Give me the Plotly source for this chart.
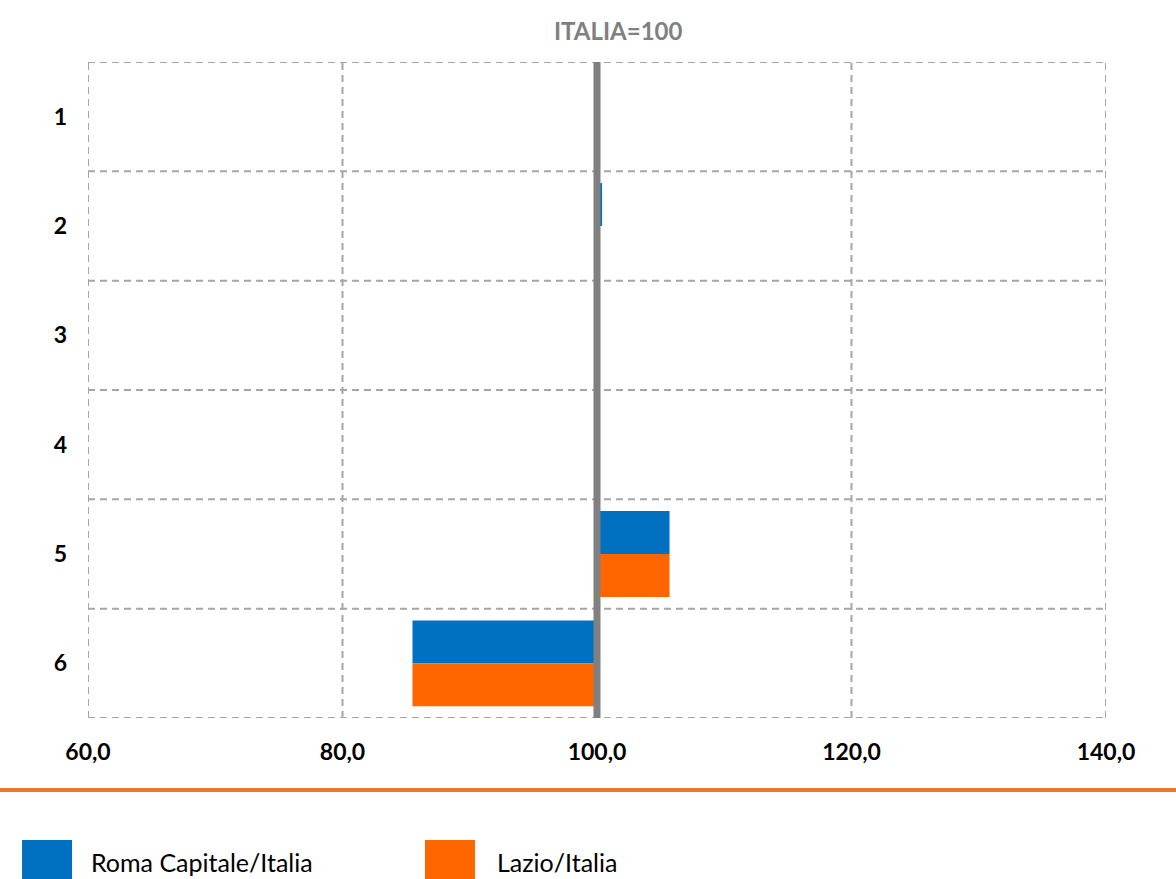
import plotly.graph_objects as go

categories = ["1", "2", "3", "4", "5", "6"]
roma = [100.0, 100.4, 100.0, 100.0, 105.7, 85.5]
lazio = [100.0, 100.0, 100.0, 100.0, 105.7, 85.5]
series_names = ["Roma Capitale/Italia", "Lazio/Italia"]
x_ticks = [60, 80, 100, 120, 140]
x_tick_text = ["60,0", "80,0", "100,0", "120,0", "140,0"]
BASE = 100

BLUE = "#0070C0"
ORANGE = "#FF6600"
GRID = "#A6A6A6"
FONT = "Lato"

fig = go.Figure()
for name, vals, col in [(series_names[0], roma, BLUE), (series_names[1], lazio, ORANGE)]:
    fig.add_trace(go.Bar(
        y=categories, x=[v - BASE for v in vals], base=BASE,
        orientation="h", name=name, marker=dict(color=col, line=dict(width=0)),
        showlegend=False,
    ))

shapes = []
for i in range(len(categories) + 1):
    shapes.append(dict(type="line", xref="paper", yref="y", x0=0, x1=1,
                       y0=i - 0.5, y1=i - 0.5,
                       line=dict(color=GRID, width=2, dash="7px,5px"), layer="below"))
for t in x_ticks:
    shapes.append(dict(type="line", xref="x", yref="paper", x0=t, x1=t, y0=0, y1=1,
                       line=dict(color=GRID, width=2, dash="7px,5px"), layer="below"))
shapes.append(dict(type="line", xref="x", yref="paper", x0=BASE, x1=BASE, y0=0, y1=1,
                   line=dict(color="#808080", width=7), layer="above"))
shapes.append(dict(type="line", xref="paper", yref="paper", x0=-0.0865, x1=1.0688,
                   y0=-0.1098, y1=-0.1098, line=dict(color="#E8762B", width=4)))

legend_items = [(series_names[0], BLUE, -0.0648, 0.0010), (series_names[1], ORANGE, 0.3310, 0.3998)]
annotations = []
for name, col, sx, tx in legend_items:
    shapes.append(dict(type="rect", xref="paper", yref="paper", x0=sx, x1=sx + 0.0491,
                       y0=-0.186, y1=-0.2454, fillcolor=col, line=dict(width=0)))
    annotations.append(dict(text=name, xref="paper", yref="paper", x=tx, y=-0.2195,
                            xanchor="left", yanchor="middle", showarrow=False,
                            font=dict(family=FONT, size=25, color="#000000")))

annotations.append(dict(text="<b>ITALIA=100</b>", xref="paper", yref="paper", x=0.5216, y=1.0473,
                        xanchor="center", yanchor="middle", showarrow=False,
                        font=dict(family=FONT, size=24, color="#808080")))

fig.update_layout(
    width=1176, height=879,
    margin=dict(l=88, r=70, t=62, b=161),
    paper_bgcolor="white", plot_bgcolor="white",
    barmode="group", bargap=0.215, bargroupgap=0,
    shapes=shapes, annotations=annotations,
    font=dict(family=FONT),
    xaxis=dict(range=[60, 140], tickvals=x_ticks, ticktext=x_tick_text,
               showgrid=False, zeroline=False, showline=False,
               tickfont=dict(family=FONT, size=23, color="#000000", weight="bold"),
               ticklabelstandoff=18),
    yaxis=dict(autorange=False, range=[5.5, -0.5], type="category",
               showgrid=False, zeroline=False, showline=False,
               tickfont=dict(family=FONT, size=23, color="#000000", weight="bold"),
               ticklabelstandoff=20),
)

fig.write_html("out.html", config={"displayModeBar": False},
               post_script="document.body.style.margin='0';")
